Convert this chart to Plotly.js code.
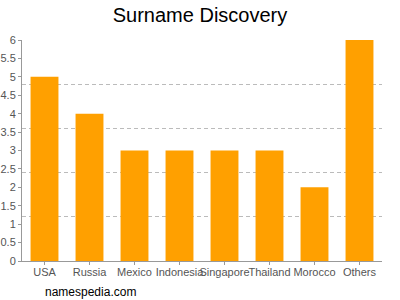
<!DOCTYPE html>
<html>
<head>
<meta charset="utf-8">
<script src="https://cdn.plot.ly/plotly-3.0.1.min.js"></script>
<style>html,body{margin:0;padding:0;background:#fff}#chart{width:400px;height:300px}</style>
</head>
<body>
<div id="chart"></div>
<script>
const countries = ["USA", "Russia", "Mexico", "Indonesia", "Singapore", "Thailand", "Morocco", "Others"];
const counts = [5, 4, 3, 3, 3, 3, 2, 6];
const yTicks = [0, 0.5, 1, 1.5, 2, 2.5, 3, 3.5, 4, 4.5, 5, 5.5, 6];

const data = [
  {type: "bar", x: countries, y: counts, marker: {color: "#ffa000"}, width: 0.62, hoverinfo: "x+y"},
  {type: "scatter", x: countries, y: counts, yaxis: "y2", mode: "none", showlegend: false, hoverinfo: "skip"}
];

const layout = {
  width: 400, height: 300,
  margin: {l: 22, r: 18, t: 40, b: 39},
  paper_bgcolor: "#fff", plot_bgcolor: "rgba(0,0,0,0)",
  showlegend: false,
  font: {family: "Liberation Sans, Arial, sans-serif", size: 11, color: "#555"},
  title: {text: "Surname Discovery", font: {size: 20, color: "#000"}, x: 0.5, xanchor: "center", y: 0.95, yanchor: "middle", yref: "container"},
  xaxis: {
    range: [-0.5, 7.5], showgrid: false, showline: true, linecolor: "#999", linewidth: 1,
    ticks: "outside", ticklen: 3, tickcolor: "#999", tickangle: 0, fixedrange: true,
    ticklabelstandoff: -2,
    tickfont: {size: 11, color: "#555"}
  },
  yaxis: {
    range: [0, 6], tickvals: yTicks, ticktext: yTicks.map(String), showgrid: false, zeroline: false,
    showline: true, linecolor: "#999", linewidth: 1, ticks: "outside", ticklen: 3, tickcolor: "#999",
    tickfont: {size: 11, color: "#555"}, fixedrange: true
  },
  yaxis2: {
    overlaying: "y", range: [0, 6], tick0: 0, dtick: 1.2, showgrid: true, gridcolor: "#bbb",
    griddash: "4px,3px", gridwidth: 1, showticklabels: false, zeroline: false, showline: false,
    ticks: "", side: "right", fixedrange: true
  },
  bargap: 0.38,
  annotations: [{
    text: "namespedia.com", xref: "paper", yref: "paper", x: (43 - 22) / 360, y: -(292 - 261) / 221,
    xanchor: "left", yanchor: "middle", showarrow: false, font: {size: 12, color: "#000"}
  }]
};

Plotly.newPlot("chart", data, layout, {displayModeBar: false, staticPlot: true});
</script>
</body>
</html>
